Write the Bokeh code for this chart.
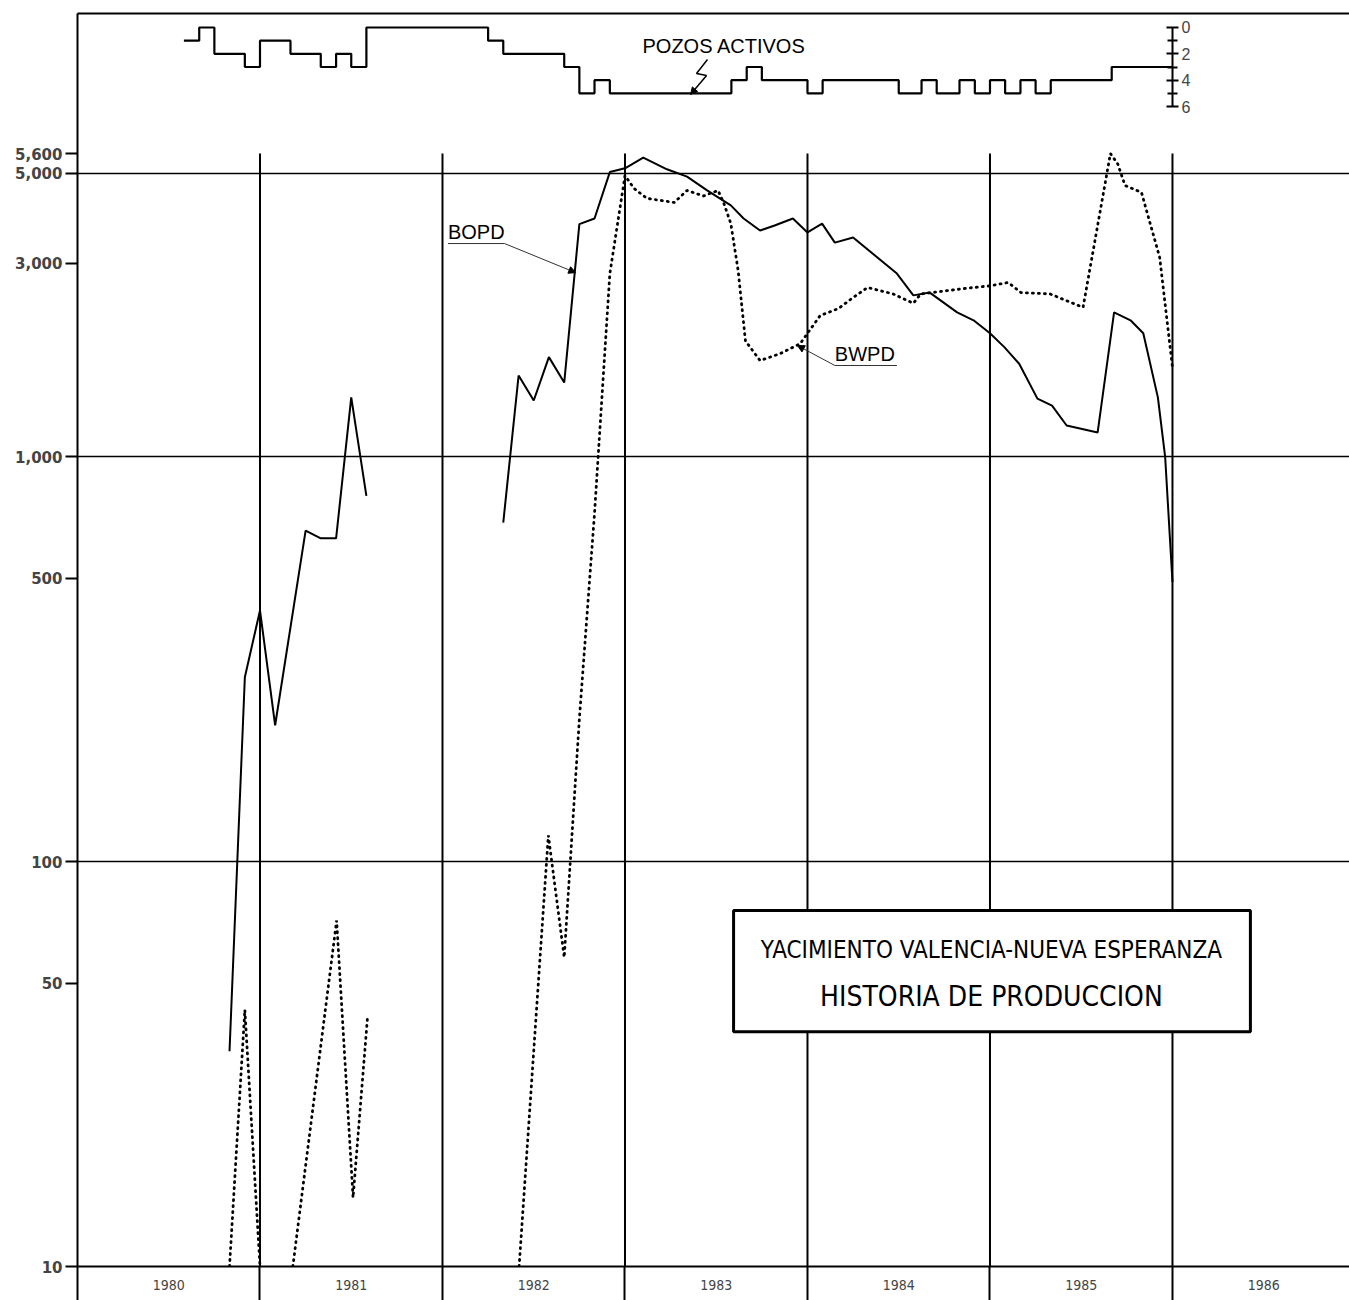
from bokeh.plotting import figure
from bokeh.models import (Range1d, LinearAxis, LinearScale, FixedTicker,
                          NumeralTickFormatter, Arrow, NormalHead)
from bokeh.core.properties import value
from bokeh.embed import file_html
from bokeh.resources import INLINE

NAN = float("nan")

# ---------------- data ----------------
# Active wells (step changes, value holds until next time)
wells_t = [1980.583, 1980.667, 1980.75, 1980.917, 1981.0, 1981.167, 1981.333,
           1981.417, 1981.5, 1981.583, 1982.25, 1982.333, 1982.667, 1982.75,
           1982.833, 1982.917, 1983.583, 1983.667, 1983.75, 1984.0, 1984.083,
           1984.5, 1984.625, 1984.708, 1984.833, 1984.917, 1985.0, 1985.083,
           1985.167, 1985.25, 1985.333, 1985.667, 1986.0]
wells_n = [1, 0, 2, 3, 1, 2, 3, 2, 3, 0, 1, 2, 3, 5, 4, 5, 4, 3, 4, 5, 4,
           5, 4, 5, 4, 5, 4, 5, 4, 5, 4, 3]

# Oil production, barrels per day (BOPD)
bopd_t = [1980.833, 1980.917, 1981.0, 1981.083, 1981.25, 1981.333, 1981.417,
          1981.5, 1981.583, NAN,
          1982.333, 1982.417, 1982.5, 1982.583, 1982.667, 1982.75, 1982.833,
          1982.917, 1983.0, 1983.1, 1983.23, 1983.34, 1983.45, 1983.58,
          1983.65, 1983.74, 1983.82, 1983.92, 1984.0, 1984.08, 1984.15,
          1984.25, 1984.49, 1984.58, 1984.67, 1984.82, 1984.91, 1985.0,
          1985.08, 1985.16, 1985.26, 1985.34, 1985.42, 1985.59, 1985.68,
          1985.77, 1985.84, 1985.92, 1985.96, 1986.0]
bopd_v = [34, 285, 417, 217, 656, 628, 628, 1400, 800, NAN,
          687, 1585, 1375, 1760, 1523, 3750, 3870, 5040, 5150, 5470, 5120,
          4910, 4540, 4170, 3870, 3615, 3720, 3870, 3575, 3760, 3375, 3475,
          2830, 2500, 2540, 2270, 2170, 2015, 1860, 1695, 1390, 1336, 1193,
          1147, 2270, 2170, 2015, 1400, 996, 490]

# Water production, barrels per day (BWPD)
bwpd_t = [1980.833, 1980.917, 1981.0, NAN,
          1981.18, 1981.42, 1981.51, 1981.59, NAN,
          1982.42, 1982.58, 1982.667, 1982.75, 1982.833, 1982.917, 1983.0,
          1983.05, 1983.12, 1983.27, 1983.34, 1983.43, 1983.51, 1983.54,
          1983.58, 1983.62, 1983.66, 1983.74, 1983.85, 1983.96, 1984.0,
          1984.07, 1984.17, 1984.25, 1984.33, 1984.47, 1984.58, 1984.62,
          1984.86, 1985.0, 1985.1, 1985.17, 1985.33, 1985.51, 1985.66,
          1985.7, 1985.74, 1985.83, 1985.93, 1986.0]
bwpd_v = [10, 43, 10, NAN,
          10, 71.5, 14.8, 41.7, NAN,
          10, 116, 58, 225, 723, 2830, 4940, 4590, 4340, 4240, 4540, 4400,
          4540, 4240, 3760, 2880, 1930, 1726, 1795, 1900, 2015, 2230, 2320,
          2470, 2615, 2520, 2390, 2520, 2600, 2640, 2690, 2540, 2520, 2335,
          5600, 5280, 4670, 4490, 3100, 1660]

y_ticks = [10, 50, 100, 500, 1000, 3000, 5000, 5600]
grid_vals = [100, 1000, 5000]
year_bounds = [1980, 1981, 1982, 1983, 1984, 1985, 1986]
year_mids = [1980.5, 1981.5, 1982.5, 1983.5, 1984.5, 1985.5, 1986.5]
year_labels = ["1980", "1981", "1982", "1983", "1984", "1985", "1986"]
wells_ticks = [0, 2, 4, 6]
wells_minor = [1, 3, 5]

COND = "DejaVu Sans Condensed, Liberation Sans, sans-serif"

# ---------------- figure ----------------
p = figure(width=1349, height=1300, y_axis_type="log",
           x_range=Range1d(1980, 1986.97), y_range=Range1d(10, 12416),
           output_backend="svg", toolbar_location=None,
           min_border_left=77, min_border_right=0, min_border_top=13,
           min_border_bottom=34, background_fill_color="white",
           border_fill_color="white", outline_line_color=None)
p.extra_y_ranges = {"wells": Range1d(94.08, -1.063)}
p.extra_y_scales = {"wells": LinearScale()}

# left axis (log values)
ya = p.yaxis[0]
ya.ticker = FixedTicker(ticks=y_ticks, minor_ticks=[])
ya.formatter = NumeralTickFormatter(format="0,0")
ya.major_tick_out = 12
ya.major_tick_in = 0
ya.axis_line_width = 2
ya.major_tick_line_width = 2
ya.major_label_standoff = 3
ya.major_label_text_font = "DejaVu Sans"
ya.major_label_text_font_style = "bold"
ya.major_label_text_font_size = "15px"

# bottom axis (years)
xa = p.xaxis[0]
xa.ticker = FixedTicker(ticks=year_mids, minor_ticks=year_bounds)
xa.major_label_overrides = {m: lab for m, lab in zip(year_mids, year_labels)}
xa.major_tick_out = 0
xa.major_tick_in = 0
xa.minor_tick_out = 34
xa.minor_tick_in = 0
xa.minor_tick_line_width = 2
xa.axis_line_width = 2
xa.major_label_standoff = -21
xa.major_label_text_font = COND
xa.major_label_text_font_size = "14px"

# top frame line
ta = LinearAxis(ticker=FixedTicker(ticks=[]), major_tick_out=0, major_tick_in=0,
                minor_tick_out=0, minor_tick_in=0, major_label_standoff=0,
                axis_line_width=2)
p.add_layout(ta, "above")

# wells scale
wa = LinearAxis(y_range_name="wells", fixed_location=1986.0, bounds=(0, 6),
                ticker=FixedTicker(ticks=wells_ticks, minor_ticks=wells_minor),
                major_tick_in=6, major_tick_out=6, minor_tick_in=5,
                minor_tick_out=5, axis_line_width=2, major_tick_line_width=2,
                minor_tick_line_width=2, major_label_standoff=3,
                major_label_text_font="Liberation Sans",
                major_label_text_font_size="16px")
p.add_layout(wa, "right")

# grid
p.xgrid.visible = False
p.ygrid.ticker = FixedTicker(ticks=grid_vals)
p.ygrid.grid_line_color = "black"
p.ygrid.grid_line_width = 1.5

# year lines
top_v = max(y_ticks)
bot_v = p.y_range.start
yl = year_bounds[1:]
p.segment(x0=yl, y0=[top_v] * len(yl), x1=yl, y1=[bot_v] * len(yl),
          line_color="black", line_width=2)

# series
p.line(bopd_t, bopd_v, line_color="black", line_width=2)
p.line(bwpd_t, bwpd_v, line_color="black", line_width=2.8,
       line_dash="1 5", line_cap="round")
p.step(wells_t, wells_n + [wells_n[-1]], mode="after", y_range_name="wells",
       line_color="black", line_width=2.2)

# labels & leaders
lbl = dict(text_color="black", text_font=value("Liberation Sans"),
           text_font_size="20px", text_baseline="alphabetic")
p.text(x=[1982.03], y=[3593], text=["BOPD"], **lbl)
p.line([1982.03, 1982.34], [3357, 3357], line_color="#333333", line_width=1)
p.add_layout(Arrow(end=NormalHead(size=7, fill_color="black", line_color="black"),
                   x_start=1982.34, y_start=3357, x_end=1982.73, y_end=2845,
                   line_color="#333333", line_width=1))

p.text(x=[1984.15], y=[1796], text=["BWPD"], **lbl)
p.line([1984.49, 1984.15], [1678, 1678], line_color="#333333", line_width=1)
p.add_layout(Arrow(end=NormalHead(size=7, fill_color="black", line_color="black"),
                   x_start=1984.15, y_start=1678, x_end=1983.945, y_end=1880,
                   line_color="#333333", line_width=1))

p.text(x=[1983.096], y=[1.44], text=["POZOS ACTIVOS"], y_range_name="wells", **lbl)
p.line([1983.452, 1983.392, 1983.447], [2.43, 3.49, 3.64], y_range_name="wells",
       line_color="black", line_width=1.5)
p.add_layout(Arrow(end=NormalHead(size=7, fill_color="black", line_color="black"),
                   x_start=1983.447, y_start=3.64, x_end=1983.359, y_end=5.09,
                   y_range_name="wells", line_color="black", line_width=1.5))

# title box
p.quad(left=[1983.595], right=[1986.427], top=[75.7], bottom=[38.0],
       fill_color="white", line_color="black", line_width=3)
p.text(x=[1985.008], y=[60.3], text=["YACIMIENTO VALENCIA-NUEVA ESPERANZA"],
       text_align="center", text_baseline="alphabetic", text_color="black",
       text_font=value(COND), text_font_size="24px")
p.text(x=[1985.008], y=[46.4], text=["HISTORIA DE PRODUCCION"],
       text_align="center", text_baseline="alphabetic", text_color="black",
       text_font=value(COND), text_font_size="28px")

open("out.html", "w").write(file_html(p, INLINE))
